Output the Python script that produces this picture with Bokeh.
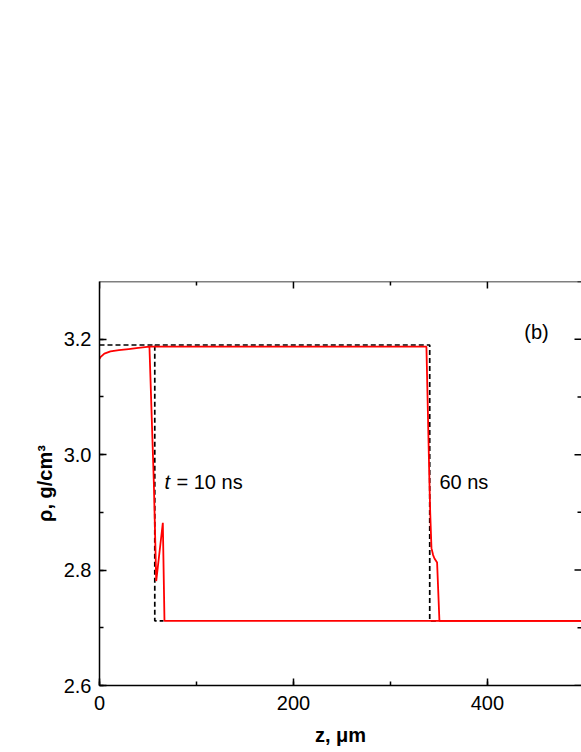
import numpy as np
from bokeh.plotting import figure
from bokeh.models import (Range1d, LinearAxis, SingleIntervalTicker,
                          PrintfTickFormatter, Label, Span)
from bokeh.embed import file_html
from bokeh.resources import INLINE

# ---- data ----
z_10ns = [0, 1, 5, 11.3, 20, 30, 40, 51.5, 56.0, 58.5, 65.3, 67.0, 497]
rho_10ns = [3.166, 3.169, 3.175, 3.179, 3.181, 3.183, 3.185, 3.187,
            2.953, 2.781, 2.882, 2.712, 2.712]

z_60ns = [51.5, 337.1, 340.2, 341.0, 342.3, 344.0, 345.4, 348.1, 350.5, 497]
rho_60ns = [3.187, 3.187, 2.953, 2.900, 2.838, 2.826, 2.820, 2.813, 2.712, 2.712]

z_init_10 = [0, 57, 57, 66]
rho_init_10 = [3.19, 3.19, 2.712, 2.712]
z_init_60 = [57, 340.5, 340.5, 349]
rho_init_60 = [3.19, 3.19, 2.712, 2.712]

x_tick_step = 200
y_tick_step = 0.2
x_lim = (0, 497)
y_lim = (2.6, 3.3)

labels_text = ["t", "= 10 ns", "60 ns", "(b)"]
labels_x = [67.0, 67.0, 350.5, 438.0]
labels_y = [2.953, 2.953, 2.953, 3.213]

FONT = "Liberation Sans"

p = figure(width=581, height=752, x_range=Range1d(*x_lim), y_range=Range1d(*y_lim),
           output_backend="svg", toolbar_location=None,
           x_axis_type=None, y_axis_type=None,
           min_border_left=99, min_border_top=281, min_border_right=0,
           min_border_bottom=67)
p.outline_line_color = None
p.background_fill_color = "white"
p.border_fill_color = "white"


def style_axis(ax):
    ax.axis_line_color = "black"
    ax.axis_line_width = 1.5
    ax.major_tick_line_color = "black"
    ax.major_tick_line_width = 1.5
    ax.minor_tick_line_color = "black"
    ax.minor_tick_line_width = 1.5
    ax.major_tick_in = 7
    ax.major_tick_out = 0
    ax.minor_tick_in = 4
    ax.minor_tick_out = 0
    ax.major_label_text_font = FONT
    ax.major_label_text_font_size = "20px"
    ax.major_label_text_color = "black"
    ax.axis_label_text_font = FONT
    ax.axis_label_text_font_size = "20px"
    ax.axis_label_text_font_style = "bold"
    ax.axis_label_text_color = "black"


xb = LinearAxis(ticker=SingleIntervalTicker(interval=x_tick_step, num_minor_ticks=2),
                formatter=PrintfTickFormatter(format="%d"), axis_label="z, μm")
style_axis(xb)
xb.major_label_standoff = 10
xb.axis_label_standoff = 11
p.add_layout(xb, "below")

yl = LinearAxis(ticker=SingleIntervalTicker(interval=y_tick_step, num_minor_ticks=2),
                formatter=PrintfTickFormatter(format="%.1f"), axis_label="ρ, g/cm³")
style_axis(yl)
yl.major_label_standoff = 8
yl.axis_label_standoff = 5
p.add_layout(yl, "left")

# top frame line and inward ticks on the top / right sides (mirror of main axes)
p.add_layout(Span(location=y_lim[1], dimension="width", line_color="black", line_width=1.5))
x_major = np.arange(x_lim[0], x_lim[1] + 1e-9, x_tick_step)
x_minor = np.arange(x_lim[0] + x_tick_step / 2, x_lim[1] + 1e-9, x_tick_step)
y_major = np.arange(y_lim[0], y_lim[1] + 1e-9, y_tick_step)
y_minor = np.arange(y_lim[0] + y_tick_step / 2, y_lim[1] + 1e-9, y_tick_step)
p.ray(x=x_major, y=[y_lim[1]] * len(x_major), length=7, length_units="screen",
      angle=-np.pi / 2, line_color="black", line_width=1.5)
p.ray(x=x_minor, y=[y_lim[1]] * len(x_minor), length=4, length_units="screen",
      angle=-np.pi / 2, line_color="black", line_width=1.5)
p.ray(x=[x_lim[1]] * len(y_major), y=y_major, length=7, length_units="screen",
      angle=np.pi, line_color="black", line_width=1.5)
p.ray(x=[x_lim[1]] * len(y_minor), y=y_minor, length=4, length_units="screen",
      angle=np.pi, line_color="black", line_width=1.5)

# dashed initial/analytic profiles
p.line(z_init_10, rho_init_10, line_color="black", line_width=1.7, line_dash="5 3")
p.line(z_init_60, rho_init_60, line_color="black", line_width=1.7, line_dash="5 3")
# simulated profiles
p.line(z_10ns, rho_10ns, line_color="#ff0000", line_width=1.8)
p.line(z_60ns, rho_60ns, line_color="#ff0000", line_width=1.8)

styles = ["italic", "normal", "normal", "normal"]
offsets = [0, 12, 0, 0]
for t, x, y, s, o in zip(labels_text, labels_x, labels_y, styles, offsets):
    p.add_layout(Label(x=x, y=y, text=t, x_offset=o, text_font=FONT,
                       text_font_size="20px", text_font_style=s,
                       text_color="black", text_baseline="middle",
                       text_align="left"))

open("out.html", "w").write(file_html(p, INLINE))
